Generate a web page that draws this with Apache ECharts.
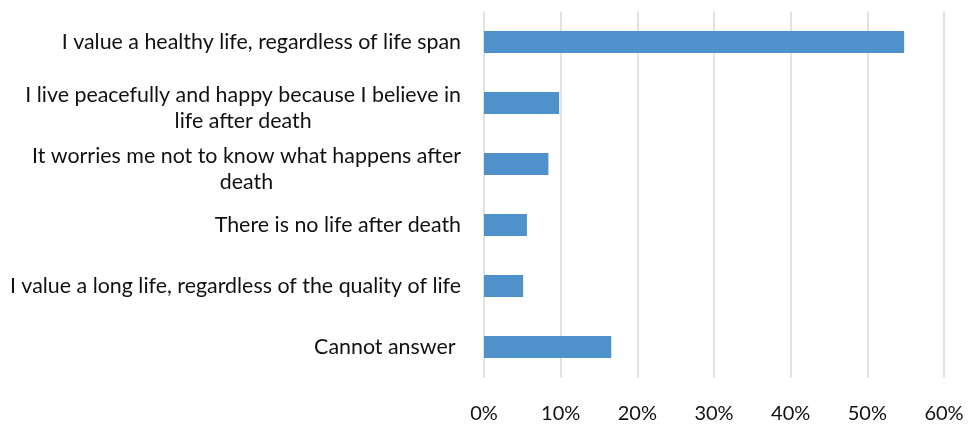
<!DOCTYPE html>
<html><head><meta charset="utf-8">
<script src="https://cdn.jsdelivr.net/npm/echarts@6/dist/echarts.min.js"></script>
<style>html,body{margin:0;padding:0;background:#fff}#c{width:978px;height:425px}</style>
</head><body><div id="c"></div>
<script>
var categories = [
  "I value a healthy life, regardless of life span",
  "I live peacefully and happy because I believe in\nlife after death",
  "It worries me not to know what happens after\ndeath",
  "There is no life after death",
  "I value a long life, regardless of the quality of life",
  "Cannot answer "
];
var values = [54.8, 9.8, 8.4, 5.6, 5.1, 16.6];
var xTicks = [0, 10, 20, 30, 40, 50, 60];

var chart = echarts.init(document.getElementById('c'), null, {renderer: 'canvas'});
chart.setOption({
  animation: false,
  grid: {left: 484, right: 34, top: 11.5, height: 366, containLabel: false},
  xAxis: {
    type: 'value', min: xTicks[0], max: xTicks[xTicks.length - 1], interval: 10,
    axisLine: {show: false}, axisTick: {show: false},
    splitLine: {show: true, lineStyle: {color: '#e2e2e2', width: 2}},
    axisLabel: {
      margin: 26, color: '#111', fontFamily: 'Lato', fontSize: 20,
      formatter: function (v) { return v + '%'; }
    }
  },
  yAxis: {
    type: 'category', inverse: true, data: categories,
    axisLine: {show: false}, axisTick: {show: false}, splitLine: {show: false},
    axisLabel: {
      margin: 23, color: '#111', fontFamily: 'Lato', fontSize: 21.4, lineHeight: 26,
      formatter: function (v) {
        var lines = v.split('\n');
        if (lines.length === 1) return '{c|' + v + '}';
        return '{s| }\n' + lines.map(function (l) { return '{c|' + l + '}'; }).join('\n');
      },
      rich: {
        c: {align: 'center', color: '#111', fontFamily: 'Lato', fontSize: 21.4, lineHeight: 26},
        s: {align: 'center', fontSize: 1, lineHeight: 10}
      }
    }
  },
  series: [{
    type: 'bar', data: values, barWidth: 22,
    itemStyle: {color: '#4e91cb'}
  }]
});
</script>
</body></html>
